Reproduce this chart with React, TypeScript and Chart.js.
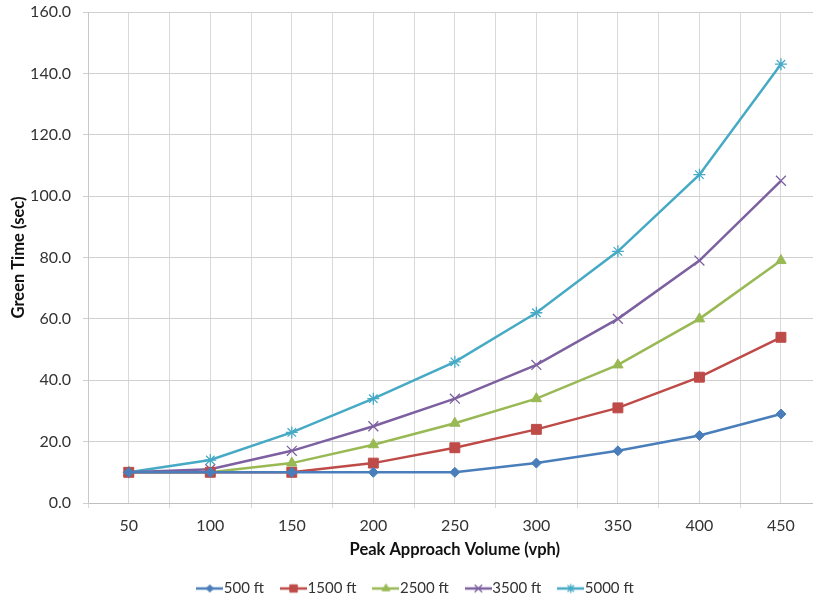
import React, { useEffect, useRef } from "react";
import { Chart, registerables } from "chart.js";
import { drawPoint } from "chart.js/helpers";

Chart.register(...registerables);

const categories = ["50", "100", "150", "200", "250", "300", "350", "400", "450"];
const ft500 = [10, 10, 10, 10, 10, 13, 17, 22, 29];
const ft1500 = [10, 10, 10, 13, 18, 24, 31, 41, 54];
const ft2500 = [10, 10, 13, 19, 26, 34, 45, 60, 79];
const ft3500 = [10, 11, 17, 25, 34, 45, 60, 79, 105];
const ft5000 = [10, 14, 23, 34, 46, 62, 82, 107, 143];
const seriesNames = ["500 ft", "1500 ft", "2500 ft", "3500 ft", "5000 ft"];
const yTitle = "Green Time (sec)";
const xTitle = "Peak Approach Volume (vph)";

const FONT = "Lato, 'Open Sans', sans-serif";

const styles = [
  { color: "#4A7EBB", pointStyle: "rectRot", radius: 5, bw: 1 },
  { color: "#BE4B48", pointStyle: "rect", radius: 7, bw: 1 },
  { color: "#98B954", pointStyle: "triangle", radius: 6, bw: 1 },
  { color: "#7D60A0", pointStyle: "crossRot", radius: 7, bw: 1.3 },
  { color: "#46AAC5", pointStyle: "star", radius: 6, bw: 1.3 },
];

function legendImage(st: any) {
  const c = document.createElement("canvas");
  c.width = 27;
  c.height = 14;
  const ctx = c.getContext("2d")!;
  ctx.strokeStyle = st.color;
  ctx.lineWidth = 2.5;
  ctx.beginPath();
  ctx.moveTo(0, 7);
  ctx.lineTo(27, 7);
  ctx.stroke();
  ctx.fillStyle = st.color;
  ctx.strokeStyle = st.color;
  ctx.lineWidth = st.bw;
  drawPoint(ctx, { pointStyle: st.pointStyle, radius: st.radius * 0.75, rotation: 0, borderWidth: st.bw }, 13.5, 7);
  return c;
}

export default function App() {
  const ref = useRef<HTMLCanvasElement>(null);
  useEffect(() => {
    const values = [ft500, ft1500, ft2500, ft3500, ft5000];
    const images = styles.map(legendImage);
    const chart = new Chart(ref.current!, {
      type: "line",
      data: {
        labels: categories,
        datasets: values.map((v, i) => ({
          label: seriesNames[i],
          data: v,
          xAxisID: "x",
          yAxisID: "y",
          borderColor: styles[i].color,
          backgroundColor: styles[i].color,
          borderWidth: 2.5,
          pointStyle: styles[i].pointStyle as any,
          pointRadius: styles[i].radius,
          pointBorderWidth: styles[i].bw,
          pointBackgroundColor: styles[i].color,
          pointBorderColor: styles[i].color,
          tension: 0,
        })),
      },
      options: {
        animation: false,
        responsive: true,
        maintainAspectRatio: false,
        layout: { padding: { top: 12, right: 7, left: 14, bottom: 0 } },
        plugins: {
          tooltip: { enabled: false },
          legend: {
            position: "bottom",
            labels: {
              usePointStyle: true,
              pointStyleWidth: 13,
              padding: 23,
              color: "#333",
              font: { family: FONT, size: 15 },
              generateLabels: (ch: any) =>
                ch.data.datasets.map((d: any, i: number) => ({
                  text: d.label,
                  pointStyle: images[i],
                  fillStyle: styles[i].color,
                  strokeStyle: styles[i].color,
                  lineWidth: 0,
                  hidden: false,
                  datasetIndex: i,
                  fontColor: "#333",
                })),
            },
          },
        },
        scales: {
          x: {
            type: "category",
            position: "bottom",
            offset: true,
            grid: { offset: true, color: "#d9d9d9", tickLength: 5, drawTicks: true },
            border: { color: "#bfbfbf" },
            ticks: { color: "#333", font: { family: FONT, size: 16 }, padding: 8, maxRotation: 0 },
            title: {
              display: true,
              text: xTitle,
              color: "#111",
              font: { family: FONT, size: 16.5, weight: "bold" },
              padding: { top: 0, bottom: -2 },
            },
            afterFit: (s: any) => {
              s.height = 55;
            },
          },
          x2: {
            type: "category",
            position: "top",
            offset: true,
            grid: { offset: false, color: "#d9d9d9", drawTicks: false },
            border: { display: false },
            ticks: { display: false },
            afterFit: (s: any) => {
              s.height = 0;
            },
          },
          y: {
            min: 0,
            max: 160,
            ticks: {
              stepSize: 20,
              color: "#333",
              font: { family: FONT, size: 16 },
              padding: 12,
              callback: (v: any) => Number(v).toFixed(1),
            },
            grid: { color: "#d0d0d0", tickLength: 5 },
            border: { color: "#c8c8c8" },
            title: {
              display: true,
              text: yTitle,
              color: "#111",
              font: { family: FONT, size: 16.5, weight: "bold" },
              padding: { top: -5, bottom: 0 },
            },
            afterFit: (s: any) => {
              s.width = 74;
              s.paddingTop = 0;
              s.paddingBottom = 0;
            },
          },
        },
      },
    });
    return () => chart.destroy();
  }, []);
  return (
    <div style={{ position: "fixed", left: 0, top: 0, width: 813, height: 600, overflow: "hidden", background: "#fff" }}>
      <div style={{ position: "relative", width: 830, height: 606 }}>
        <canvas ref={ref} />
      </div>
    </div>
  );
}
